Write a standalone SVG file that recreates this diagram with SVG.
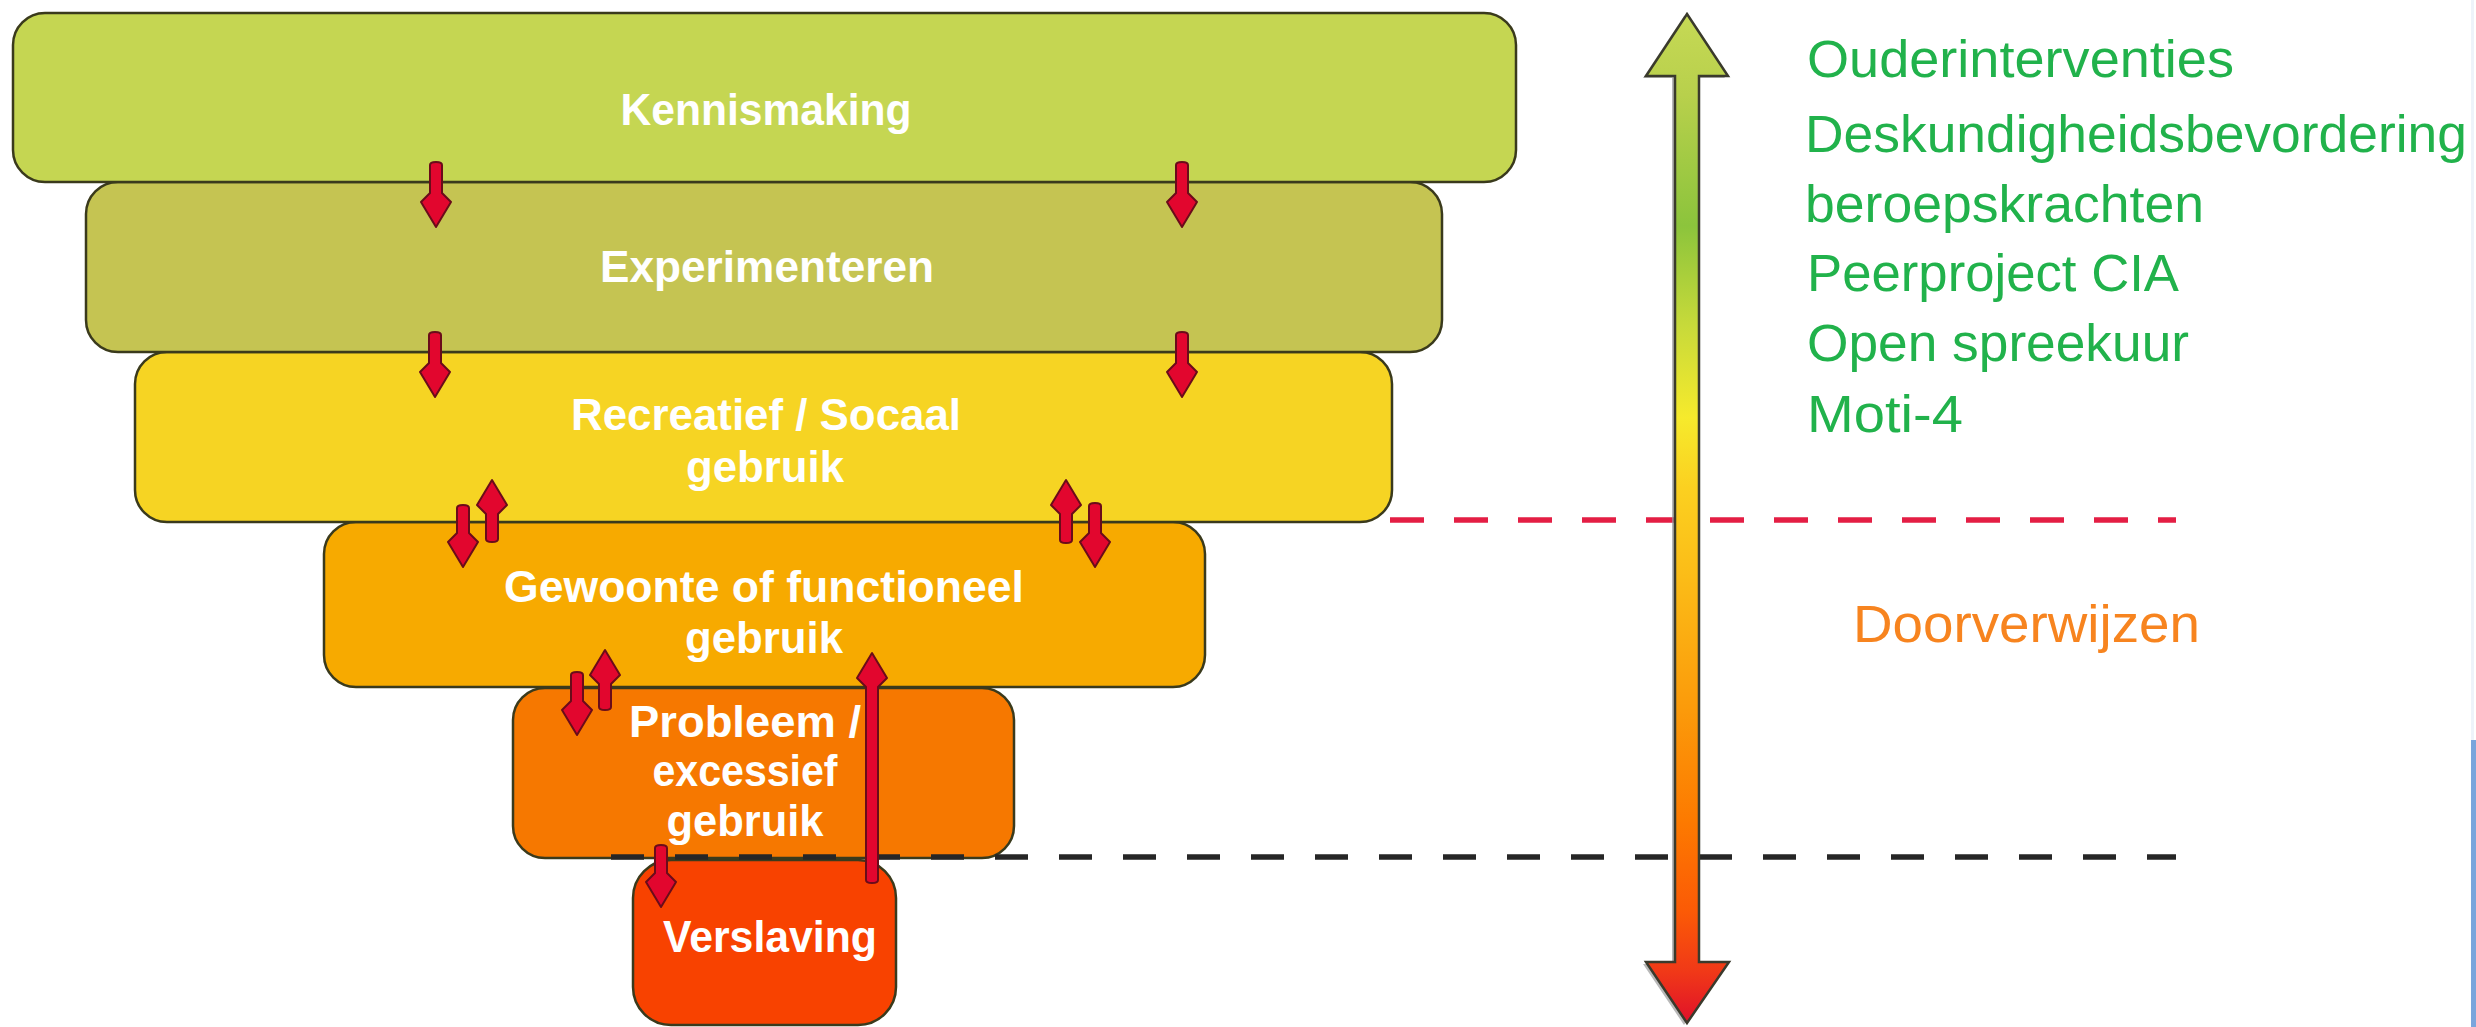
<svg xmlns="http://www.w3.org/2000/svg" width="2476" height="1027" viewBox="0 0 2476 1027">
<defs>
<linearGradient id="scale" gradientUnits="userSpaceOnUse" x1="0" y1="14" x2="0" y2="1023">
<stop offset="0" stop-color="#c6d955"/>
<stop offset="0.08" stop-color="#b8d04c"/>
<stop offset="0.21" stop-color="#8cc43c"/>
<stop offset="0.31" stop-color="#c8da3a"/>
<stop offset="0.40" stop-color="#f6ea2c"/>
<stop offset="0.47" stop-color="#fbd020"/>
<stop offset="0.55" stop-color="#fbbe18"/>
<stop offset="0.69" stop-color="#fb9a0a"/>
<stop offset="0.80" stop-color="#fd7a00"/>
<stop offset="0.89" stop-color="#fb5a06"/>
<stop offset="0.95" stop-color="#f03818"/>
<stop offset="1" stop-color="#e0102a"/>
</linearGradient>
<style>
.box{stroke:#3a3a1c;stroke-width:2.5}
.lbl{font-family:"Liberation Sans",Arial,sans-serif;font-weight:bold;font-size:44px;fill:#ffffff;text-anchor:middle}
.side{font-family:"Liberation Sans",Arial,sans-serif;font-size:51px;fill:#21b24b}
.ref{font-family:"Liberation Sans",Arial,sans-serif;font-size:51px;fill:#f7841f}
.arr{fill:#e2062e;stroke:#6a0c1a;stroke-width:2;stroke-linejoin:round}
</style>
</defs>
<rect x="0" y="0" width="2476" height="1027" fill="#ffffff"/>
<rect x="2471" y="0" width="3" height="740" fill="#eef3fa"/>
<rect x="2471" y="740" width="5" height="287" fill="#7aa5dc"/>

<g id="divider-red">
<line x1="1390" y1="520" x2="2176" y2="520" stroke="#e41e44" stroke-width="5.5" stroke-dasharray="34 30"/>
</g>

<g id="node-verslaving">
<rect class="box" x="633" y="860" width="263" height="165" rx="38" fill="#f84200"/>
<text class="lbl" x="770" y="952" textLength="214" lengthAdjust="spacingAndGlyphs">Verslaving</text>
</g>
<g id="node-probleem">
<rect class="box" x="513" y="688" width="501" height="170" rx="32" fill="#f67800"/>
<text class="lbl" x="745" y="737" textLength="232" lengthAdjust="spacingAndGlyphs">Probleem /</text>
<text class="lbl" x="745" y="786" textLength="185" lengthAdjust="spacingAndGlyphs">excessief</text>
<text class="lbl" x="745" y="836" textLength="157" lengthAdjust="spacingAndGlyphs">gebruik</text>
</g>
<g id="node-gewoonte">
<rect class="box" x="324" y="522" width="881" height="165" rx="32" fill="#f7aa00"/>
<text class="lbl" x="764" y="602" textLength="520" lengthAdjust="spacingAndGlyphs">Gewoonte of functioneel</text>
<text class="lbl" x="764" y="653" textLength="158" lengthAdjust="spacingAndGlyphs">gebruik</text>
</g>
<g id="node-recreatief">
<rect class="box" x="135" y="352" width="1257" height="170" rx="32" fill="#f6d423"/>
<text class="lbl" x="766" y="430" textLength="390" lengthAdjust="spacingAndGlyphs">Recreatief / Socaal</text>
<text class="lbl" x="765" y="482" textLength="158" lengthAdjust="spacingAndGlyphs">gebruik</text>
</g>
<g id="node-experimenteren">
<rect class="box" x="86" y="182" width="1356" height="170" rx="32" fill="#c5c452"/>
<text class="lbl" x="767" y="282" textLength="334" lengthAdjust="spacingAndGlyphs">Experimenteren</text>
</g>
<g id="node-kennismaking">
<rect class="box" x="13" y="13" width="1503" height="169" rx="32" fill="#c5d652"/>
<text class="lbl" x="766" y="125" textLength="291" lengthAdjust="spacingAndGlyphs">Kennismaking</text>
</g>

<g id="divider-black">
<line x1="611" y1="857" x2="2176" y2="857" stroke="#262626" stroke-width="5.5" stroke-dasharray="33 31"/>
</g>

<g id="connectors">
<path class="arr" d="M430 165 Q430 162 436 162 Q442 162 442 165 L442 193 L451 202 L436 227 L421 202 L430 193 Z"/>
<path class="arr" d="M1176 165 Q1176 162 1182 162 Q1188 162 1188 165 L1188 193 L1197 202 L1182 227 L1167 202 L1176 193 Z"/>
<path class="arr" d="M429 335 Q429 332 435 332 Q441 332 441 335 L441 363 L450 372 L435 397 L420 372 L429 363 Z"/>
<path class="arr" d="M1176 335 Q1176 332 1182 332 Q1188 332 1188 335 L1188 363 L1197 372 L1182 397 L1167 372 L1176 363 Z"/>
<path class="arr" d="M457 508 Q457 505 463 505 Q469 505 469 508 L469 533 L478 542 L463 567 L448 542 L457 533 Z"/>
<path class="arr" d="M1089 506 Q1089 503 1095 503 Q1101 503 1101 506 L1101 533 L1110 542 L1095 567 L1080 542 L1089 533 Z"/>
<path class="arr" d="M571 675 Q571 672 577 672 Q583 672 583 675 L583 701 L592 710 L577 735 L562 710 L571 701 Z"/>
<path class="arr" d="M655 848 Q655 845 661 845 Q667 845 667 848 L667 873 L676 882 L661 907 L646 882 L655 873 Z"/>
<path class="arr" d="M486 539 Q486 542 492 542 Q498 542 498 539 L498 514 L507 505 L492 480 L477 505 L486 514 Z"/>
<path class="arr" d="M1060 540 Q1060 543 1066 543 Q1072 543 1072 540 L1072 514 L1081 505 L1066 480 L1051 505 L1060 514 Z"/>
<path class="arr" d="M599 707 Q599 710 605 710 Q611 710 611 707 L611 684 L620 675 L605 650 L590 675 L599 684 Z"/>
<path class="arr" d="M866 880 Q866 883 872 883 Q878 883 878 880 L878 687 L887 678 L872 653 L857 678 L866 687 Z"/>
</g>

<g id="scale-arrow">
<path d="M1684 16 L1725 78 L1696 78 L1696 964 L1726 964 L1684 1025 L1643 964 L1672 964 L1672 78 L1643 78 Z" fill="#9a9a9a" opacity="0.7"/>
<path d="M1687 14 L1728 76 L1699 76 L1699 962 L1729 962 L1687 1023 L1646 962 L1675 962 L1675 76 L1646 76 Z" fill="url(#scale)" stroke="#3a3a2c" stroke-width="2.5" stroke-linejoin="miter"/>
</g>

<g id="interventions">
<text class="side" x="1807" y="77" textLength="427" lengthAdjust="spacingAndGlyphs">Ouderinterventies</text>
<text class="side" x="1805" y="152" textLength="662" lengthAdjust="spacingAndGlyphs">Deskundigheidsbevordering</text>
<text class="side" x="1805" y="222" textLength="399" lengthAdjust="spacingAndGlyphs">beroepskrachten</text>
<text class="side" x="1807" y="291" textLength="372" lengthAdjust="spacingAndGlyphs">Peerproject CIA</text>
<text class="side" x="1807" y="361" textLength="382" lengthAdjust="spacingAndGlyphs">Open spreekuur</text>
<text class="side" x="1807" y="432" textLength="156" lengthAdjust="spacingAndGlyphs">Moti-4</text>
</g>
<g id="referral">
<text class="ref" x="1853" y="642" textLength="347" lengthAdjust="spacingAndGlyphs">Doorverwijzen</text>
</g>
</svg>
